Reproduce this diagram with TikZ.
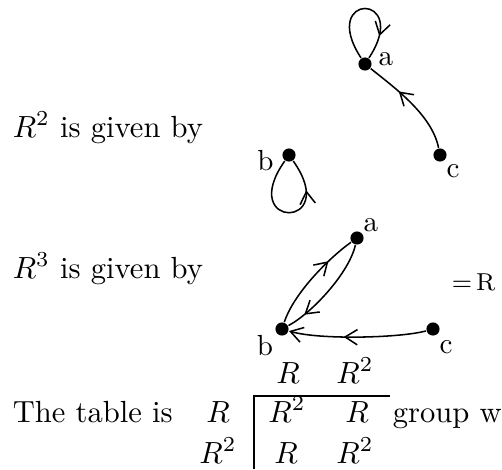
\documentclass[tikz,border=0pt]{standalone}
\usetikzlibrary{arrows.meta,decorations.markings}
\begin{document}
\begin{tikzpicture}[x=0.327pt,y=-0.327pt, line width=0.5pt,
  dot/.style={circle,fill,inner sep=0pt,minimum size=4.3pt},
  lbl/.style={inner sep=0pt,font=\rmfamily\fontsize{9.5}{11}\selectfont},
  txt/.style={inner sep=0pt,anchor=base west},
  cell/.style={inner sep=0pt,anchor=base},
  midarrow/.style={postaction={decorate},decoration={markings,mark=at position #1 with {\arrow{Straight Barb[length=4pt,width=5pt]}}}},
  tipend/.style={-{Straight Barb[length=4pt,width=5pt]}}
]
\useasboundingbox (0,0) rectangle (502,469);

% texts
\node[txt] (t2) at (12,137) {$R^2$ is given by};
\node[txt] (t3) at (12,278) {$R^3$ is given by};
\node[txt] (tt) at (12,422) {The table is};

% first diagram
\node[dot] (a1) at (365,64) {};
\node[dot] (b1) at (289,155) {};
\node[dot] (c1) at (440,155) {};
\node[lbl] (la1) at (386,59) {a};
\node[lbl] (lb1) at (265.5,161) {b};
\node[lbl] (lc1) at (453,171) {c};
\draw[midarrow=0.8] (a1) .. controls (318,-8) and (412,-8) .. (a1);
\draw[midarrow=0.75] (b1) .. controls (236,230) and (342,230) .. (b1);
\draw[midarrow=0.66] (c1) .. controls (432,115) and (395,88) .. (a1);

% second diagram
\node[dot] (a2) at (357,238) {};
\node[dot] (b2) at (282,329) {};
\node[dot] (c2) at (433,329) {};
\node[lbl] (la2) at (371,225) {a};
\node[lbl] (lb2) at (265,346) {b};
\node[lbl] (lc2) at (446,347.5) {c};
\draw[midarrow=0.72] (b2) .. controls (294,293) and (329,258) .. (a2);
\draw[midarrow=0.82] (a2) .. controls (349,273) and (312,313) .. (b2);
\draw[midarrow=0.6,tipend] (c2) .. controls (400,338) and (320,340) .. (b2);
\node[inner sep=0pt,anchor=base east,font=\rmfamily\fontsize{8}{9}\selectfont] (eqr) at (496,290) {=\,R};

% table
\node[cell] (h1) at (288,383) {$R$};
\node[cell] (h2) at (355,383) {$R^2$};
\node[cell] (r1) at (218,422) {$R$};
\node[cell] (r2) at (218,463) {$R^2$};
\node[cell] (c11) at (287,422) {$R^2$};
\node[cell] (c12) at (357,422) {$R$};
\node[cell] (c21) at (286,463) {$R$};
\node[cell] (c22) at (355,463) {$R^2$};
\node[txt] (gw) at (392,422) {group w};
\coordinate (vt) at (254,396);
\coordinate (vb) at (254,469);
\coordinate (hr) at (390,396);
\draw[line width=0.4pt] (vb) -- (vt) -- (hr);
\end{tikzpicture}
\end{document}
